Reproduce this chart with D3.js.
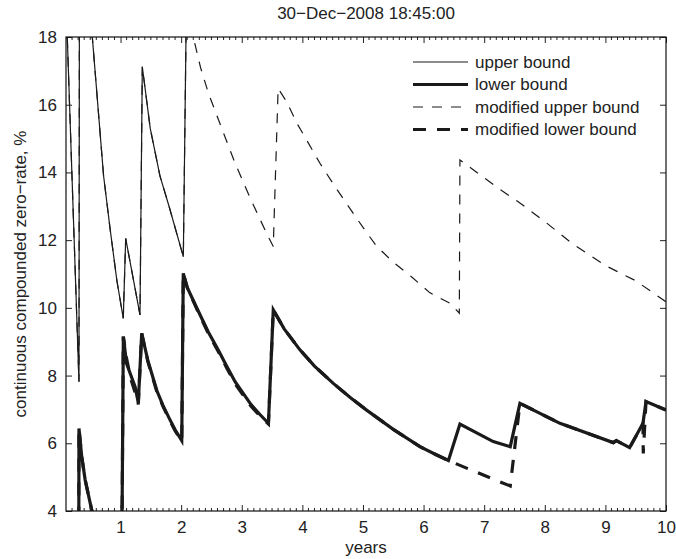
<!DOCTYPE html>
<html>
<head>
<meta charset="utf-8">
<script src="https://cdn.jsdelivr.net/npm/d3@7"></script>
<style>
  body { margin: 0; background: #fff; }
  text { font-family: "Liberation Sans", Arial, Helvetica, sans-serif; fill: #222; }
</style>
</head>
<body>
<svg id="chart"></svg>
<script>
// values (years, % rates)
const upperYears = [0.10, 0.314, 0.322, 0.534, 0.72, 0.83, 0.94, 1.045, 1.085, 1.321, 1.359, 1.49, 1.65, 1.80, 2.036, 2.09];
const upperRates = [19.1, 7.82, 20.5, 18.0, 13.9, 12.3, 10.8, 9.69, 12.05, 9.79, 17.12, 15.3, 13.9, 13.0, 11.51, 19.5];

const lowerYears = [0.10, 0.31, 0.314, 0.36, 0.416, 0.524, 0.62, 1.02, 1.046, 1.10, 1.24, 1.293, 1.349, 1.45, 1.60, 1.70, 1.80, 1.90, 2.01, 2.035, 2.10, 2.27, 2.45, 2.61, 2.75, 2.89, 3.15, 3.30, 3.44, 3.52, 3.70, 3.96, 4.20, 4.51, 4.80, 5.06, 5.50, 5.94, 6.20, 6.41, 6.60, 7.15, 7.43, 7.59, 8.25, 9.13, 9.18, 9.40, 9.62, 9.67, 10.0];
const lowerRates = [2.0, 2.0, 6.44, 5.6, 4.92, 4.03, 3.4, 2.5, 9.15, 8.35, 7.67, 7.2, 9.25, 8.45, 7.55, 7.12, 6.75, 6.40, 6.08, 11.02, 10.6, 9.95, 9.28, 8.76, 8.28, 7.82, 7.15, 6.85, 6.59, 9.94, 9.38, 8.76, 8.28, 7.77, 7.34, 6.98, 6.41, 5.90, 5.67, 5.49, 6.57, 6.05, 5.90, 7.18, 6.59, 6.02, 6.08, 5.87, 6.59, 7.23, 6.98];

const modUpperYears = [0.10, 0.314, 0.322, 0.534, 0.72, 0.83, 0.94, 1.045, 1.085, 1.321, 1.359, 1.49, 1.65, 1.80, 2.036, 2.09, 2.20, 2.32, 2.45, 2.70, 2.89, 3.15, 3.41, 3.52, 3.60, 3.74, 3.91, 4.05, 4.29, 4.55, 4.84, 5.05, 5.23, 5.50, 5.80, 6.10, 6.44, 6.59, 6.60, 6.90, 7.30, 7.55, 8.00, 8.45, 9.00, 9.50, 10.0];
const modUpperRates = [19.1, 7.82, 20.5, 18.0, 13.9, 12.3, 10.8, 9.69, 12.05, 9.79, 17.12, 15.3, 13.9, 13.0, 11.51, 19.5, 18.0, 17.1, 16.34, 15.16, 14.27, 13.2, 12.20, 11.81, 16.48, 16.09, 15.45, 15.02, 14.27, 13.55, 12.79, 12.25, 11.81, 11.35, 10.92, 10.45, 10.13, 9.84, 14.37, 13.97, 13.45, 13.15, 12.55, 11.9, 11.25, 10.8, 10.18];

const modLowerYears = [0.10, 0.31, 0.314, 0.36, 0.416, 0.524, 0.62, 1.02, 1.046, 1.10, 1.17, 1.24, 1.293, 1.349, 1.45, 1.60, 1.70, 1.80, 1.90, 2.01, 2.035, 2.10, 2.27, 2.45, 2.61, 2.75, 2.89, 3.15, 3.30, 3.44, 3.52, 3.70, 3.96, 4.20, 4.51, 4.80, 5.06, 5.50, 5.94, 6.20, 6.41, 7.15, 7.43, 7.59, 8.25, 9.13, 9.18, 9.40, 9.62, 9.625, 9.67, 10.0];
const modLowerRates = [2.0, 2.0, 6.44, 5.6, 4.92, 4.03, 3.4, 2.5, 9.15, 8.5, 7.9, 7.5, 7.15, 9.25, 8.42, 7.52, 7.09, 6.72, 6.37, 6.06, 11.02, 10.6, 9.92, 9.24, 8.72, 8.23, 7.76, 7.10, 6.81, 6.57, 9.94, 9.38, 8.76, 8.28, 7.77, 7.34, 6.98, 6.41, 5.90, 5.67, 5.49, 4.94, 4.74, 7.18, 6.59, 6.02, 6.08, 5.87, 6.59, 5.70, 7.23, 6.98];

const xTicks = [1, 2, 3, 4, 5, 6, 7, 8, 9, 10];
const yTicks = [4, 6, 8, 10, 12, 14, 16, 18];

const title = "30\u2212Dec\u22122008 18:45:00";
const xLabel = "years";
const yLabel = "continuous compounded zero\u2212rate, %";
const legendNames = ["upper bound", "lower bound", "modified upper bound", "modified lower bound"];

const width = 676, height = 559;
const margin = {top: 37, right: 10, bottom: 48, left: 66};
const fontSize = 17;

const svg = d3.select("#chart")
  .attr("width", width)
  .attr("height", height);

const x = d3.scaleLinear().domain([0.1, 10]).range([margin.left, width - margin.right]);
const y = d3.scaleLinear().domain([4, 18]).range([height - margin.bottom, margin.top]);

const x0 = x.range()[0], x1 = x.range()[1];
const y0 = y.range()[0], y1 = y.range()[1];

svg.append("defs").append("clipPath")
  .attr("id", "clip")
  .append("rect")
  .attr("x", x0).attr("y", y1)
  .attr("width", x1 - x0).attr("height", y0 - y1);

// series: zip the years and rates
const zip = (xs, ys) => xs.map((d, i) => ({year: d, rate: ys[i]}));
const series = [
  {name: legendNames[0], data: zip(upperYears, upperRates), width: 1.2, dash: null},
  {name: legendNames[1], data: zip(lowerYears, lowerRates), width: 3.2, dash: null},
  {name: legendNames[2], data: zip(modUpperYears, modUpperRates), width: 1.2, dash: "10,9"},
  {name: legendNames[3], data: zip(modLowerYears, modLowerRates), width: 3.2, dash: "13,11"}
];

const line = d3.line()
  .x(d => x(d.year))
  .y(d => y(d.rate));

const plot = svg.append("g").attr("clip-path", "url(#clip)");

// dashed ones underneath so the solid ones cover them where they agree
[series[2], series[3], series[0], series[1]].forEach(s => {
  plot.append("path")
    .datum(s.data)
    .attr("fill", "none")
    .attr("stroke", "#1a1a1a")
    .attr("stroke-width", s.width)
    .attr("stroke-linejoin", "miter")
    .attr("stroke-dasharray", s.dash)
    .attr("d", line);
});

// minor ticks every 0.1 year, top and bottom
const minor = d3.range(1, 100).map(i => (i + 1) / 10).filter(v => Math.abs(v - Math.round(v)) > 1e-6);
const ticksG = svg.append("g").attr("stroke", "#222").attr("stroke-width", 1);
minor.forEach(v => {
  ticksG.append("line").attr("x1", x(v)).attr("x2", x(v)).attr("y1", y0).attr("y2", y0 - 3);
  ticksG.append("line").attr("x1", x(v)).attr("x2", x(v)).attr("y1", y1).attr("y2", y1 + 3);
});

// major ticks (inward) with the box
svg.append("g")
  .attr("transform", `translate(0,${y0})`)
  .call(d3.axisBottom(x).tickValues(xTicks).tickSize(-6).tickPadding(10).tickFormat(d3.format("d")))
  .call(g => g.select(".domain").remove());
svg.append("g")
  .attr("transform", `translate(0,${y1})`)
  .call(d3.axisTop(x).tickValues(xTicks).tickSize(-6).tickFormat(""))
  .call(g => g.select(".domain").remove());
svg.append("g")
  .attr("transform", `translate(${x0},0)`)
  .call(d3.axisLeft(y).tickValues(yTicks).tickSize(-6).tickPadding(9).tickFormat(d3.format("d")))
  .call(g => g.select(".domain").remove());
svg.append("g")
  .attr("transform", `translate(${x1},0)`)
  .call(d3.axisRight(y).tickValues(yTicks).tickSize(-6).tickFormat(""))
  .call(g => g.select(".domain").remove());

svg.selectAll(".tick line").attr("stroke", "#222");
svg.selectAll(".tick text")
  .attr("font-size", fontSize)
  .attr("font-family", null)
  .style("fill", "#222");

svg.append("rect")
  .attr("x", x0).attr("y", y1)
  .attr("width", x1 - x0).attr("height", y0 - y1)
  .attr("fill", "none")
  .attr("stroke", "#111")
  .attr("stroke-width", 1.2);

// labels
svg.append("text")
  .attr("x", (x0 + x1) / 2).attr("y", 19)
  .attr("text-anchor", "middle")
  .attr("font-size", fontSize)
  .text(title);

svg.append("text")
  .attr("x", (x0 + x1) / 2).attr("y", 553)
  .attr("text-anchor", "middle")
  .attr("font-size", fontSize)
  .text(xLabel);

svg.append("text")
  .attr("transform", `translate(26,${(y0 + y1) / 2}) rotate(-90)`)
  .attr("text-anchor", "middle")
  .attr("font-size", fontSize)
  .text(yLabel);

// legend, no box
const legend = svg.append("g").attr("transform", "translate(413,62)");
series.forEach((s, i) => {
  const row = legend.append("g").attr("transform", `translate(0,${i * 22.5})`);
  row.append("line")
    .attr("x1", 0).attr("x2", 55)
    .attr("stroke", "#1a1a1a")
    .attr("stroke-width", s.width)
    .attr("stroke-dasharray", s.dash);
  row.append("text")
    .attr("x", 62).attr("dy", "0.35em")
    .attr("font-size", fontSize)
    .text(s.name);
});
</script>
</body>
</html>
